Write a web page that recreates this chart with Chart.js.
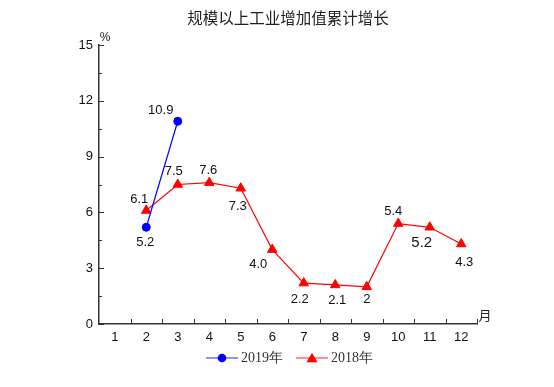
<!DOCTYPE html>
<html>
<head>
<meta charset="utf-8">
<script src="https://cdn.jsdelivr.net/npm/chart.js@4.4.0/dist/chart.umd.min.js"></script>
<style>
    html, body { margin: 0; padding: 0; background: #fff; }
    #contenedor { width: 554px; height: 387px; }
</style>
</head>
<body>
<div id="contenedor"><canvas id="chartIndustria"></canvas></div>
<script>
const titulo = '规模以上工业增加值累计增长';
const meses = ['1', '2', '3', '4', '5', '6', '7', '8', '9', '10', '11', '12'];
const valores2019 = [null, 5.2, 10.9, null, null, null, null, null, null, null, null, null];
const valores2018 = [null, 6.1, 7.5, 7.6, 7.3, 4.0, 2.2, 2.1, 2, 5.4, 5.2, 4.3];
const textos2019 = ['', '5.2', '10.9', '', '', '', '', '', '', '', '', ''];
const textos2018 = ['', '6.1', '7.5', '7.6', '7.3', '4.0', '2.2', '2.1', '2', '5.4', '5.2', '4.3'];
const ticksY = [0, 3, 6, 9, 12, 15];

// desplazamiento de cada etiqueta respecto a su punto [dx, dy, tamaño]
const posEtiquetas = [
    [null, [-1, 15, 13], [-17, -11, 13], null, null, null, null, null, null, null, null, null],
    [null, [-7, -11, 13], [-4, -13, 13], [-1, -12, 13], [-3, 18, 13], [-14, 15, 13],
     [-4, 16, 13], [2, 15, 13], [0, 13, 13], [-5, -12, 13], [-8, 16, 15], [3, 18, 13]]
];

// icono de leyenda: linea + marcador, desplazado a la derecha dentro del lienzo
function muestraLeyenda(color, colorLinea, forma) {
    const c = document.createElement('canvas');
    c.width = 39;
    c.height = 12;
    const g = c.getContext('2d');
    g.strokeStyle = colorLinea;
    g.lineWidth = 1.6;
    g.beginPath();
    g.moveTo(7, 6);
    g.lineTo(39, 6);
    g.stroke();
    g.fillStyle = color;
    g.beginPath();
    if (forma === 'circle') {
        g.arc(23, 6, 4.3, 0, Math.PI * 2);
    } else {
        g.moveTo(23, 0.8);
        g.lineTo(28.5, 10.3);
        g.lineTo(17.5, 10.3);
        g.closePath();
    }
    g.fill();
    return c;
}

const iconos = [
    muestraLeyenda('#0000ff', 'rgba(70,70,255,0.75)', 'circle'),
    muestraLeyenda('#ff0000', 'rgba(255,70,70,0.75)', 'triangle')
];

const textosEtiquetas = [textos2019, textos2018];

const pluginDecoracion = {
    id: 'decoracion',
    afterLayout(chart) {
        // subir la leyenda un poco para acercarla al eje
        chart.legend.top -= 7;
        chart.legend.bottom -= 7;
    },
    afterDatasetsDraw(chart) {
        const ctx = chart.ctx;
        ctx.save();
        ctx.fillStyle = '#111';
        ctx.textAlign = 'center';
        ctx.textBaseline = 'middle';
        chart.data.datasets.forEach((ds, i) => {
            const meta = chart.getDatasetMeta(i);
            meta.data.forEach((p, j) => {
                const pos = posEtiquetas[i][j];
                if (!pos || ds.data[j] === null) return;
                ctx.font = pos[2] + 'px "Liberation Sans", Arial, sans-serif';
                ctx.fillText(textosEtiquetas[i][j], p.x + pos[0], p.y + pos[1]);
            });
        });
        ctx.restore();
    },
    afterDraw(chart) {
        const ctx = chart.ctx;
        const area = chart.chartArea;
        const x = chart.scales.x;
        const y = chart.scales.y;
        ctx.save();
        ctx.strokeStyle = '#333';
        ctx.lineWidth = 1;
        ctx.beginPath();
        for (let v = 0; v <= 15; v += 1.5) {
            const py = Math.round(y.getPixelForValue(v)) + 0.5;
            const largo = (v % 3 === 0) ? 5 : 3;
            ctx.moveTo(area.left, py);
            ctx.lineTo(area.left + largo, py);
        }
        for (let i = 0; i < meses.length; i++) {
            const px = Math.round(x.getPixelForValue(i + 0.5)) + 0.5;
            ctx.moveTo(px, area.bottom);
            ctx.lineTo(px, area.bottom - 5);
        }
        ctx.stroke();

        ctx.fillStyle = '#222';
        ctx.textAlign = 'center';
        ctx.textBaseline = 'middle';
        ctx.font = '15.5px "Noto Sans CJK SC", sans-serif';
        ctx.fillText(titulo, (area.left + area.right) / 2, 18);
        ctx.font = '12px "Liberation Sans", Arial, sans-serif';
        ctx.fillText('%', area.left + 6, 38);
        ctx.font = '13px "Noto Sans CJK SC", sans-serif';
        ctx.fillText('月', area.right + 8, area.bottom - 9);
        ctx.restore();
    }
};

const ctx = document.getElementById('chartIndustria').getContext('2d');

new Chart(ctx, {
    type: 'line',
    data: {
        labels: meses,
        datasets: [{
            label: '2019年',
            data: valores2019,
            borderColor: '#0000ff',
            backgroundColor: '#0000ff',
            borderWidth: 1.2,
            pointStyle: 'circle',
            pointRadius: 4,
            pointBorderWidth: 1,
            tension: 0
        }, {
            label: '2018年',
            data: valores2018,
            borderColor: '#ff0000',
            backgroundColor: '#ff0000',
            borderWidth: 1.2,
            pointStyle: 'triangle',
            pointRadius: 5.5,
            pointBorderWidth: 1,
            tension: 0
        }]
    },
    options: {
        responsive: true,
        maintainAspectRatio: false,
        animation: false,
        layout: {
            padding: { top: 45, right: 77, left: 0, bottom: 5 }
        },
        plugins: {
            title: { display: false },
            tooltip: { enabled: false },
            legend: {
                display: true,
                position: 'bottom',
                fullSize: false,
                labels: {
                    usePointStyle: true,
                    pointStyleWidth: 31,
                    padding: 10,
                    color: '#333',
                    font: { family: '"Liberation Serif", "Times New Roman", serif', size: 14 },
                    generateLabels(chart) {
                        return chart.data.datasets.map((ds, i) => ({
                            text: ds.label,
                            pointStyle: iconos[i],
                            fillStyle: ds.backgroundColor,
                            strokeStyle: ds.borderColor,
                            lineWidth: 0,
                            hidden: false,
                            fontColor: '#333',
                            datasetIndex: i
                        }));
                    }
                }
            }
        },
        scales: {
            x: {
                offset: true,
                grid: { display: false, offset: true, drawTicks: false },
                border: { display: true, color: '#333', width: 1.5 },
                ticks: {
                    padding: 6,
                    color: '#111',
                    maxRotation: 0,
                    minRotation: 0,
                    font: { family: '"Liberation Sans", Arial, sans-serif', size: 13 }
                },
                afterFit(scale) { scale.height = 24; }
            },
            y: {
                min: 0,
                max: 15,
                afterBuildTicks(scale) {
                    scale.ticks = ticksY.map(v => ({ value: v }));
                },
                grid: { display: false, drawTicks: false },
                border: { display: true, color: '#333', width: 1.5 },
                ticks: {
                    padding: 6,
                    color: '#111',
                    font: { family: '"Liberation Sans", Arial, sans-serif', size: 13 }
                },
                afterFit(scale) { scale.width = 99; }
            }
        }
    },
    plugins: [pluginDecoracion]
});
</script>
</body>
</html>
